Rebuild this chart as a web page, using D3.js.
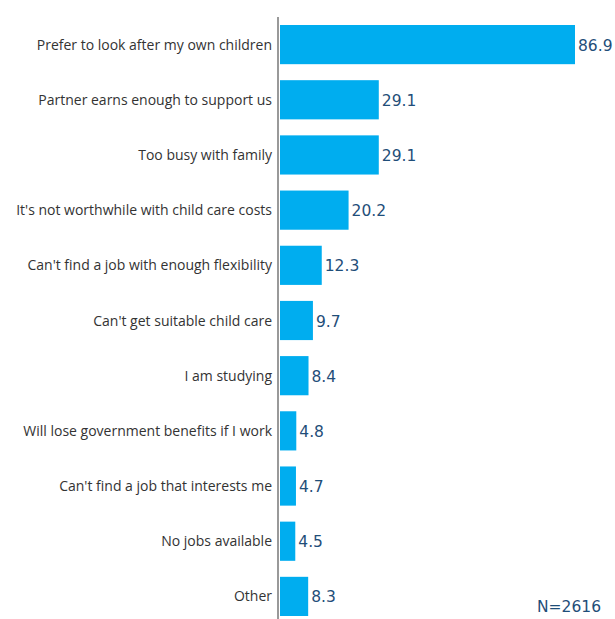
<!DOCTYPE html>
<html><head><meta charset="utf-8">
<script src="https://cdn.jsdelivr.net/npm/d3@7"></script>
<style>body{margin:0;background:#fff}</style>
</head><body>
<svg id="c" width="615" height="619"></svg>
<script>
const categories = ["Prefer to look after my own children","Partner earns enough to support us","Too busy with family","It's not worthwhile with child care costs","Can't find a job with enough flexibility","Can't get suitable child care","I am studying","Will lose government benefits if I work","Can't find a job that interests me","No jobs available","Other"];
const values = [86.9,29.1,29.1,20.2,12.3,9.7,8.4,4.8,4.7,4.5,8.3];
const note = "N=2616";

const svg = d3.select("#c");
const x = d3.scaleLinear().domain([0, 86.9]).range([280, 575]);
const y = d3.scaleBand().domain(categories).range([17, 624]).paddingInner(0.29).paddingOuter(0.145);

svg.selectAll("rect.bar").data(values).join("rect")
  .attr("x", x(0)).attr("y", (d,i)=>y(categories[i]))
  .attr("width", d=>x(d)-x(0)).attr("height", y.bandwidth())
  .attr("fill", "#00adef");

svg.append("line").attr("x1",278).attr("x2",278).attr("y1",17).attr("y2",619)
  .attr("stroke","#999").attr("stroke-width",2);

svg.selectAll("text.cat").data(categories).join("text")
  .attr("x", 272).attr("y", d=>y(d)+y.bandwidth()/2+5)
  .attr("text-anchor","end").attr("font-family","'Open Sans', sans-serif")
  .attr("font-size",14).attr("fill","#333").text(d=>d);

svg.selectAll("text.val").data(values).join("text")
  .attr("x", d=>x(d)+3).attr("y", (d,i)=>y(categories[i])+y.bandwidth()/2+6)
  .attr("font-family","'DejaVu Sans', Verdana, sans-serif")
  .attr("font-size",15.5).attr("fill","#1f4e79").text(d=>d.toFixed(1));

svg.append("text").attr("x",601).attr("y",612).attr("text-anchor","end")
  .attr("font-family","'DejaVu Sans', Verdana, sans-serif")
  .attr("font-size",15.5).attr("fill","#1f4e79").text(note);
</script>
</body></html>
